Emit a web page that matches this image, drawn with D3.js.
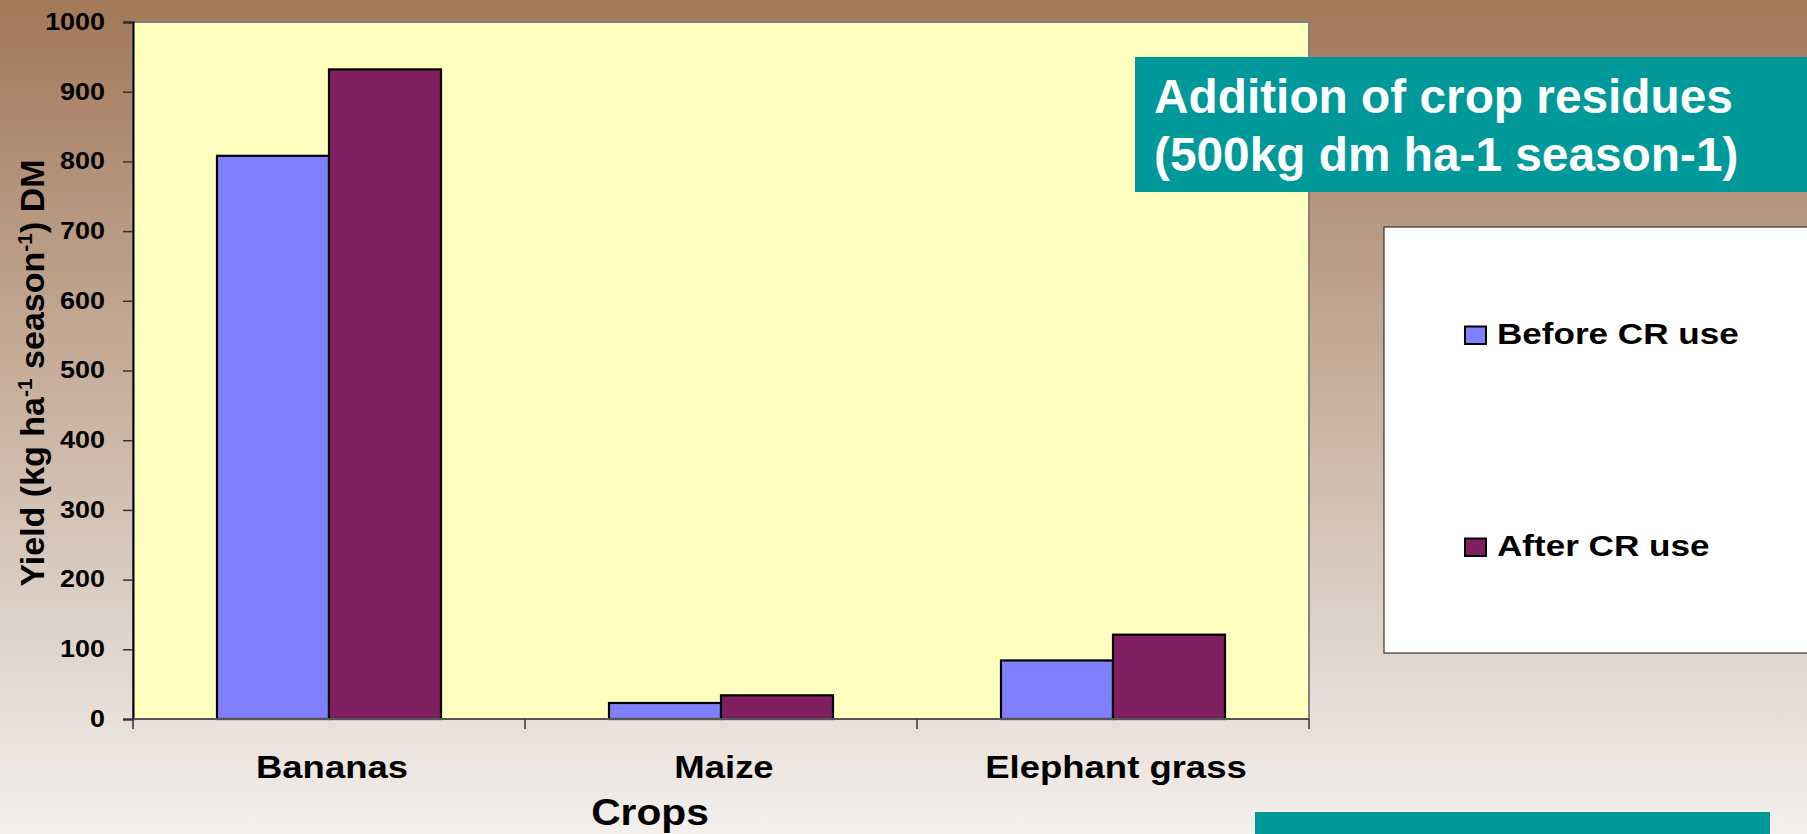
<!DOCTYPE html>
<html>
<head>
<meta charset="utf-8">
<script src="https://cdn.jsdelivr.net/npm/d3@7"></script>
<style>
  html, body { margin: 0; padding: 0; overflow: hidden; }
  svg { display: block; font-family: Arial, "Liberation Sans", sans-serif; font-weight: bold; }
</style>
</head>
<body>
<svg id="chart" width="1807" height="834"></svg>
<script>
// chart data
var categories = ["Bananas", "Maize", "Elephant grass"];
var seriesNames = ["Before CR use", "After CR use"];
var beforeValues = [808, 23, 84];
var afterValues = [932, 34, 121];
var seriesColors = ["#8080FF", "#7F1F5F"];
var yTicks = [0, 100, 200, 300, 400, 500, 600, 700, 800, 900, 1000];
var titleLines = ["Addition of crop residues", "(500kg dm ha-1 season-1)"];

var W = 1807, H = 834;
var plot = { left: 133, right: 1309, top: 22, bottom: 719 };
var sx = 1.17; // the slide is stretched sideways, text too

var svg = d3.select("#chart");

var defs = svg.append("defs");
var grad = defs.append("linearGradient").attr("id", "bg")
	.attr("x1", 0).attr("y1", 0).attr("x2", 0).attr("y2", 1);
grad.append("stop").attr("offset", "0%").attr("stop-color", "#A27858");
grad.append("stop").attr("offset", "100%").attr("stop-color", "#F3F0EE");

svg.append("rect").attr("width", W).attr("height", H).attr("fill", "url(#bg)");

var x = d3.scaleBand().domain(categories).range([plot.left, plot.right]);
var y = d3.scaleLinear().domain([0, 1000]).range([plot.bottom, plot.top]);

// excel style gap width 150%
var barW = x.bandwidth() / 3.5;
var x1 = d3.scaleBand().domain(seriesNames)
	.range([barW * 0.75, barW * 2.75]);

// plot area
svg.append("rect")
	.attr("x", plot.left).attr("y", plot.top)
	.attr("width", plot.right - plot.left).attr("height", plot.bottom - plot.top)
	.attr("fill", "#FFFFC0")
	.attr("stroke", "#808080").attr("stroke-width", 2);

// bars
var rows = categories.map(function(c, i) {
	return { cat: c, values: [beforeValues[i], afterValues[i]] };
});
var groups = svg.append("g").selectAll("g").data(rows).enter().append("g")
	.attr("transform", function(d) { return "translate(" + x(d.cat) + ",0)"; });
groups.selectAll("rect").data(function(d) {
	return d.values.map(function(v, j) { return { name: seriesNames[j], value: v, color: seriesColors[j] }; });
}).enter().append("rect")
	.attr("x", function(d) { return x1(d.name); })
	.attr("y", function(d) { return y(d.value); })
	.attr("width", x1.bandwidth())
	.attr("height", function(d) { return y(0) - y(d.value); })
	.attr("fill", function(d) { return d.color; })
	.attr("stroke", "#000").attr("stroke-width", 2.2);

// y axis
var yAxis = svg.append("g")
	.attr("transform", "translate(" + plot.left + ",0)")
	.call(d3.axisLeft(y).tickValues(yTicks).tickSize(10).tickFormat(d3.format("d")));
yAxis.select(".domain").attr("stroke", "#000").attr("stroke-width", 2);
yAxis.selectAll(".tick line").attr("stroke", "#333").attr("stroke-width", 1.5);
yAxis.selectAll(".tick text")
	.attr("x", null)
	.attr("transform", "translate(-28,0) scale(" + sx + ",1)")
	.attr("fill", "#000")
	.style("font-size", "23px").style("font-family", "Arial, 'Liberation Sans', sans-serif");

// x axis
var xAxis = svg.append("g")
	.attr("transform", "translate(0," + plot.bottom + ")");
xAxis.append("line")
	.attr("x1", plot.left).attr("x2", plot.right)
	.attr("stroke", "#555").attr("stroke-width", 2);
var bounds = categories.map(function(c) { return x(c); }).concat([plot.right]);
xAxis.selectAll(".xt").data(bounds).enter().append("line")
	.attr("class", "xt")
	.attr("x1", function(d) { return d; }).attr("x2", function(d) { return d; })
	.attr("y1", 0).attr("y2", 10)
	.attr("stroke", "#333").attr("stroke-width", 1.5);
xAxis.selectAll(".xl").data(categories).enter().append("text")
	.attr("class", "xl")
	.attr("transform", function(d) {
		return "translate(" + (x(d) + x.bandwidth() / 2 + 3) + ",59) scale(1.14,1)";
	})
	.attr("text-anchor", "middle")
	.style("font-size", "32px")
	.text(function(d) { return d; });

// axis titles
svg.append("text")
	.attr("transform", "translate(650,825) scale(1.1,1)")
	.attr("text-anchor", "middle")
	.style("font-size", "37px")
	.text("Crops");

var yTitle = svg.append("text")
	.attr("transform", "translate(44,373) rotate(-90)")
	.attr("text-anchor", "middle")
	.style("font-size", "34px");
yTitle.append("tspan").text("Yield (kg ha");
yTitle.append("tspan").attr("dy", -12).style("font-size", "21px").text("-1");
yTitle.append("tspan").attr("dy", 12).text(" season");
yTitle.append("tspan").attr("dy", -12).style("font-size", "21px").text("-1");
yTitle.append("tspan").attr("dy", 12).text(") DM");

// title box
svg.append("rect")
	.attr("x", 1135).attr("y", 57).attr("width", 700).attr("height", 135)
	.attr("fill", "#009999");
svg.selectAll(".title").data(titleLines).enter().append("text")
	.attr("class", "title")
	.attr("x", 1154)
	.attr("y", function(d, i) { return 113 + i * 58; })
	.attr("fill", "#fff")
	.style("font-size", "47.8px")
	.text(function(d) { return d; });

// legend
svg.append("rect")
	.attr("x", 1384).attr("y", 227).attr("width", 500).attr("height", 426)
	.attr("fill", "#fff").attr("stroke", "#333").attr("stroke-width", 1.2);
var legendY = [344, 556];
var leg = svg.selectAll(".leg").data(seriesNames).enter().append("g")
	.attr("class", "leg")
	.attr("transform", function(d, i) { return "translate(0," + legendY[i] + ")"; });
leg.append("rect")
	.attr("x", 1465).attr("y", -17.5).attr("width", 21).attr("height", 17.5)
	.attr("fill", function(d, i) { return seriesColors[i]; })
	.attr("stroke", "#000").attr("stroke-width", 2);
leg.append("text")
	.attr("transform", "translate(1497,0) scale(" + sx + ",1)")
	.style("font-size", "30px")
	.text(function(d) { return d; });

// teal strip at the bottom
svg.append("rect")
	.attr("x", 1255).attr("y", 812).attr("width", 515).attr("height", 30)
	.attr("fill", "#009999");
</script>
</body>
</html>
